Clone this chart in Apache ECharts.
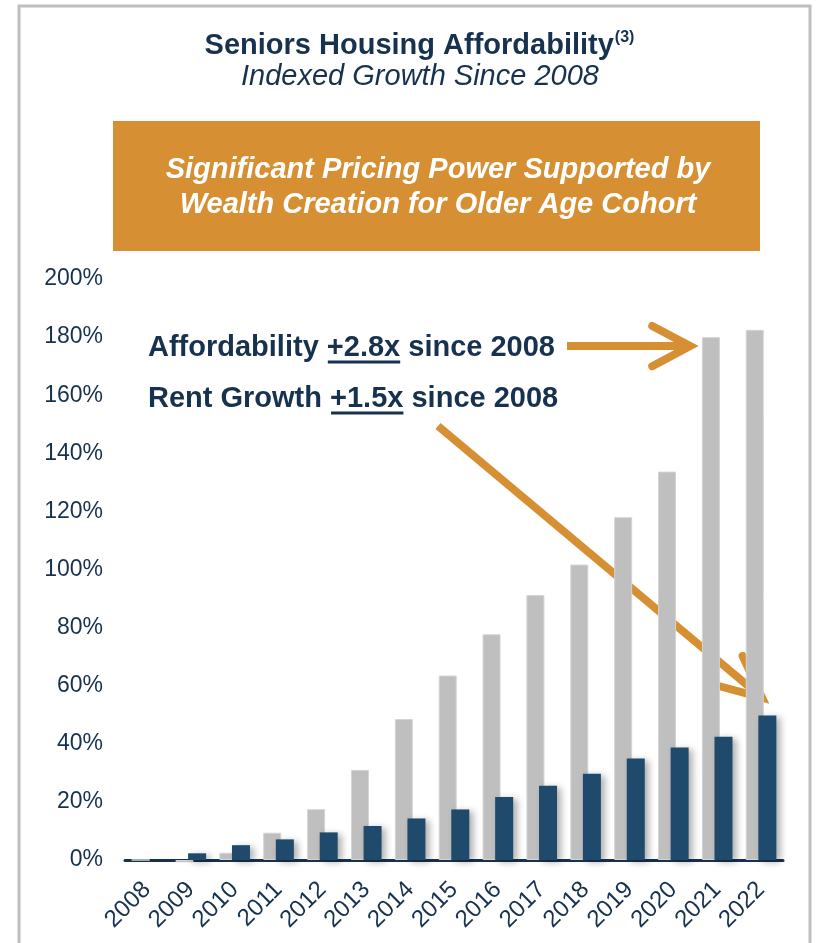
<!DOCTYPE html>
<html>
<head>
<meta charset="utf-8">
<script src="https://cdn.jsdelivr.net/npm/echarts@6/dist/echarts.min.js"></script>
<style>
  html, body { margin: 0; padding: 0; background: #ffffff; }
  #chart { width: 821px; height: 943px; }
</style>
</head>
<body>
<div id="chart"></div>
<script>
// Indexed growth since 2008, in percent
const years = ['2008', '2009', '2010', '2011', '2012', '2013', '2014', '2015',
               '2016', '2017', '2018', '2019', '2020', '2021', '2022'];
const affordability = [0, -0.8, 2.5, 9.4, 17.5, 31, 48.5, 63.5, 77.7, 91.2, 101.7, 118, 133.7, 180, 182.5];
const rentGrowth = [0, 2.3, 5.1, 7.1, 9.5, 11.7, 14.3, 17.4, 21.7, 25.6, 29.7, 34.9, 38.7, 42.4, 49.7];
const yTicks = [0, 20, 40, 60, 80, 100, 120, 140, 160, 180, 200];

const titleText = 'Seniors Housing Affordability';
const titleNote = '(3)';
const subtitleText = 'Indexed Growth Since 2008';
const bannerLines = ['Significant Pricing Power Supported by', 'Wealth Creation for Older Age Cohort'];
const calloutAfford = ['Affordability ', '+2.8x', ' since 2008'];
const calloutRent = ['Rent Growth ', '+1.5x', ' since 2008'];

const INK = '#17324F';
const NAVY = '#1F4A6B';
const GREY = '#BFBFBF';
const ORANGE = '#D69033';
const FAMILY = '"Liberation Sans", Arial, Helvetica, sans-serif';

const chart = echarts.init(document.getElementById('chart'), null, { renderer: 'canvas' });

chart.setOption({
  animation: false,
  backgroundColor: '#ffffff',
  grid: { left: 125, right: 38, top: 279, bottom: 83, containLabel: false },
  xAxis: {
    type: 'category',
    data: years,
    axisLine: { show: true, lineStyle: { color: INK, width: 3 } },
    axisTick: { show: false },
    axisLabel: { rotate: 45, margin: 26, color: INK, fontSize: 24, fontFamily: FAMILY, interval: 0 }
  },
  yAxis: {
    type: 'value',
    min: yTicks[0],
    max: yTicks[yTicks.length - 1],
    interval: yTicks[1] - yTicks[0],
    axisLine: { show: false },
    axisTick: { show: false },
    splitLine: { show: false },
    axisLabel: { formatter: '{value}%', margin: 22, color: INK, fontSize: 23, fontFamily: FAMILY }
  },
  series: [
    {
      name: 'Affordability',
      type: 'bar',
      data: affordability,
      barWidth: 18,
      barGap: '-30%',
      clip: false,
      itemStyle: { color: GREY, borderColor: '#D4D4D4', borderWidth: 1 }
    },
    {
      name: 'Rent Growth',
      type: 'bar',
      data: rentGrowth,
      barWidth: 18,
      barGap: '-30%',
      itemStyle: {
        color: NAVY,
        shadowColor: 'rgba(0,0,0,0.32)',
        shadowBlur: 7,
        shadowOffsetX: 4,
        shadowOffsetY: 2
      }
    }
  ]
});

// ---- annotations ----
const measureCtx = document.createElement('canvas').getContext('2d');
function textWidth(str, font) {
  measureCtx.font = font;
  return measureCtx.measureText(str).width;
}

function textEl(str, x, y, font, fill, align) {
  return {
    type: 'text', x: x, y: y, silent: true,
    style: { text: str, font: font, fill: fill, textAlign: align || 'left', textVerticalAlign: 'middle' }
  };
}

// sentence with its middle fragment underlined
function callout(parts, x, y, font) {
  const els = [];
  let cx = x;
  parts.forEach(function (p, i) {
    const w = textWidth(p, font);
    els.push(textEl(p, cx, y, font, INK, 'left'));
    if (i === 1) {
      els.push({
        type: 'line', silent: true,
        shape: { x1: cx + 1, y1: y + 14, x2: cx + w, y2: y + 14 },
        style: { stroke: INK, lineWidth: 3 }
      });
    }
    cx += w;
  });
  return { els: els, end: cx };
}

function arrow(x1, y1, x2, y2, headLen, halfAngle) {
  const ang = Math.atan2(y1 - y2, x1 - x2);
  const a = halfAngle * Math.PI / 180;
  const w1 = [x2 + headLen * Math.cos(ang + a), y2 + headLen * Math.sin(ang + a)];
  const w2 = [x2 + headLen * Math.cos(ang - a), y2 + headLen * Math.sin(ang - a)];
  const style = { stroke: ORANGE, lineWidth: 8, fill: null };
  return [
    { type: 'polyline', silent: true, shape: { points: [[x1, y1], [x2 + 6 * Math.cos(ang), y2 + 6 * Math.sin(ang)]] },
      style: Object.assign({ lineCap: 'butt' }, style) },
    { type: 'polyline', silent: true, shape: { points: [w1, [x2, y2], w2] },
      style: Object.assign({ lineCap: 'round', lineJoin: 'miter' }, style) }
  ];
}

const boldFont = 'bold 29px ' + FAMILY;
const italicFont = 'italic 29px ' + FAMILY;
const bannerFont = 'italic bold 29px ' + FAMILY;
const noteFont = 'bold 16px ' + FAMILY;

const graphics = [];

// frame
graphics.push({
  type: 'polyline', silent: true,
  shape: { points: [[19, 960], [19, 6], [810, 6], [810, 960]] },
  style: { stroke: '#BFBFBF', lineWidth: 3, fill: null }
});

// title with note marker
const tW = textWidth(titleText, boldFont);
const nW = textWidth(titleNote, noteFont);
const tLeft = 419 - (tW + nW) / 2;
graphics.push(textEl(titleText, tLeft, 46, boldFont, INK, 'left'));
graphics.push(textEl(titleNote, tLeft + tW + 1, 38, noteFont, INK, 'left'));
graphics.push(textEl(subtitleText, 420, 77, italicFont, INK, 'center'));

// banner
graphics.push({
  type: 'rect', silent: true,
  shape: { x: 113, y: 121, width: 647, height: 130 },
  style: { fill: ORANGE }
});
graphics.push(textEl(bannerLines[0], 438, 170, bannerFont, '#FFFFFF', 'center'));
graphics.push(textEl(bannerLines[1], 438, 205, bannerFont, '#FFFFFF', 'center'));

// callouts
const c1 = callout(calloutAfford, 148, 348, boldFont);
const c2 = callout(calloutRent, 148, 399, boldFont);
Array.prototype.push.apply(graphics, c1.els);
Array.prototype.push.apply(graphics, c2.els);

// arrows pointing at the 2021 affordability bar and the 2022 rent bar
const pA = chart.convertToPixel({ gridIndex: 0 }, [years.length - 2, affordability[years.length - 2]]);
const pR = chart.convertToPixel({ gridIndex: 0 }, [years.length - 1, rentGrowth[years.length - 1]]);
const tip1 = [pA[0] - 27, pA[1] + 9];
Array.prototype.push.apply(graphics, arrow(c1.end + 12, tip1[1], tip1[0], tip1[1], 43, 28));
const tip2 = [pR[0] + 1, pR[1] - 18];
Array.prototype.push.apply(graphics, arrow(438, 426, tip2[0], tip2[1], 46, 25));

chart.setOption({ graphic: { elements: graphics } });
</script>
</body>
</html>
